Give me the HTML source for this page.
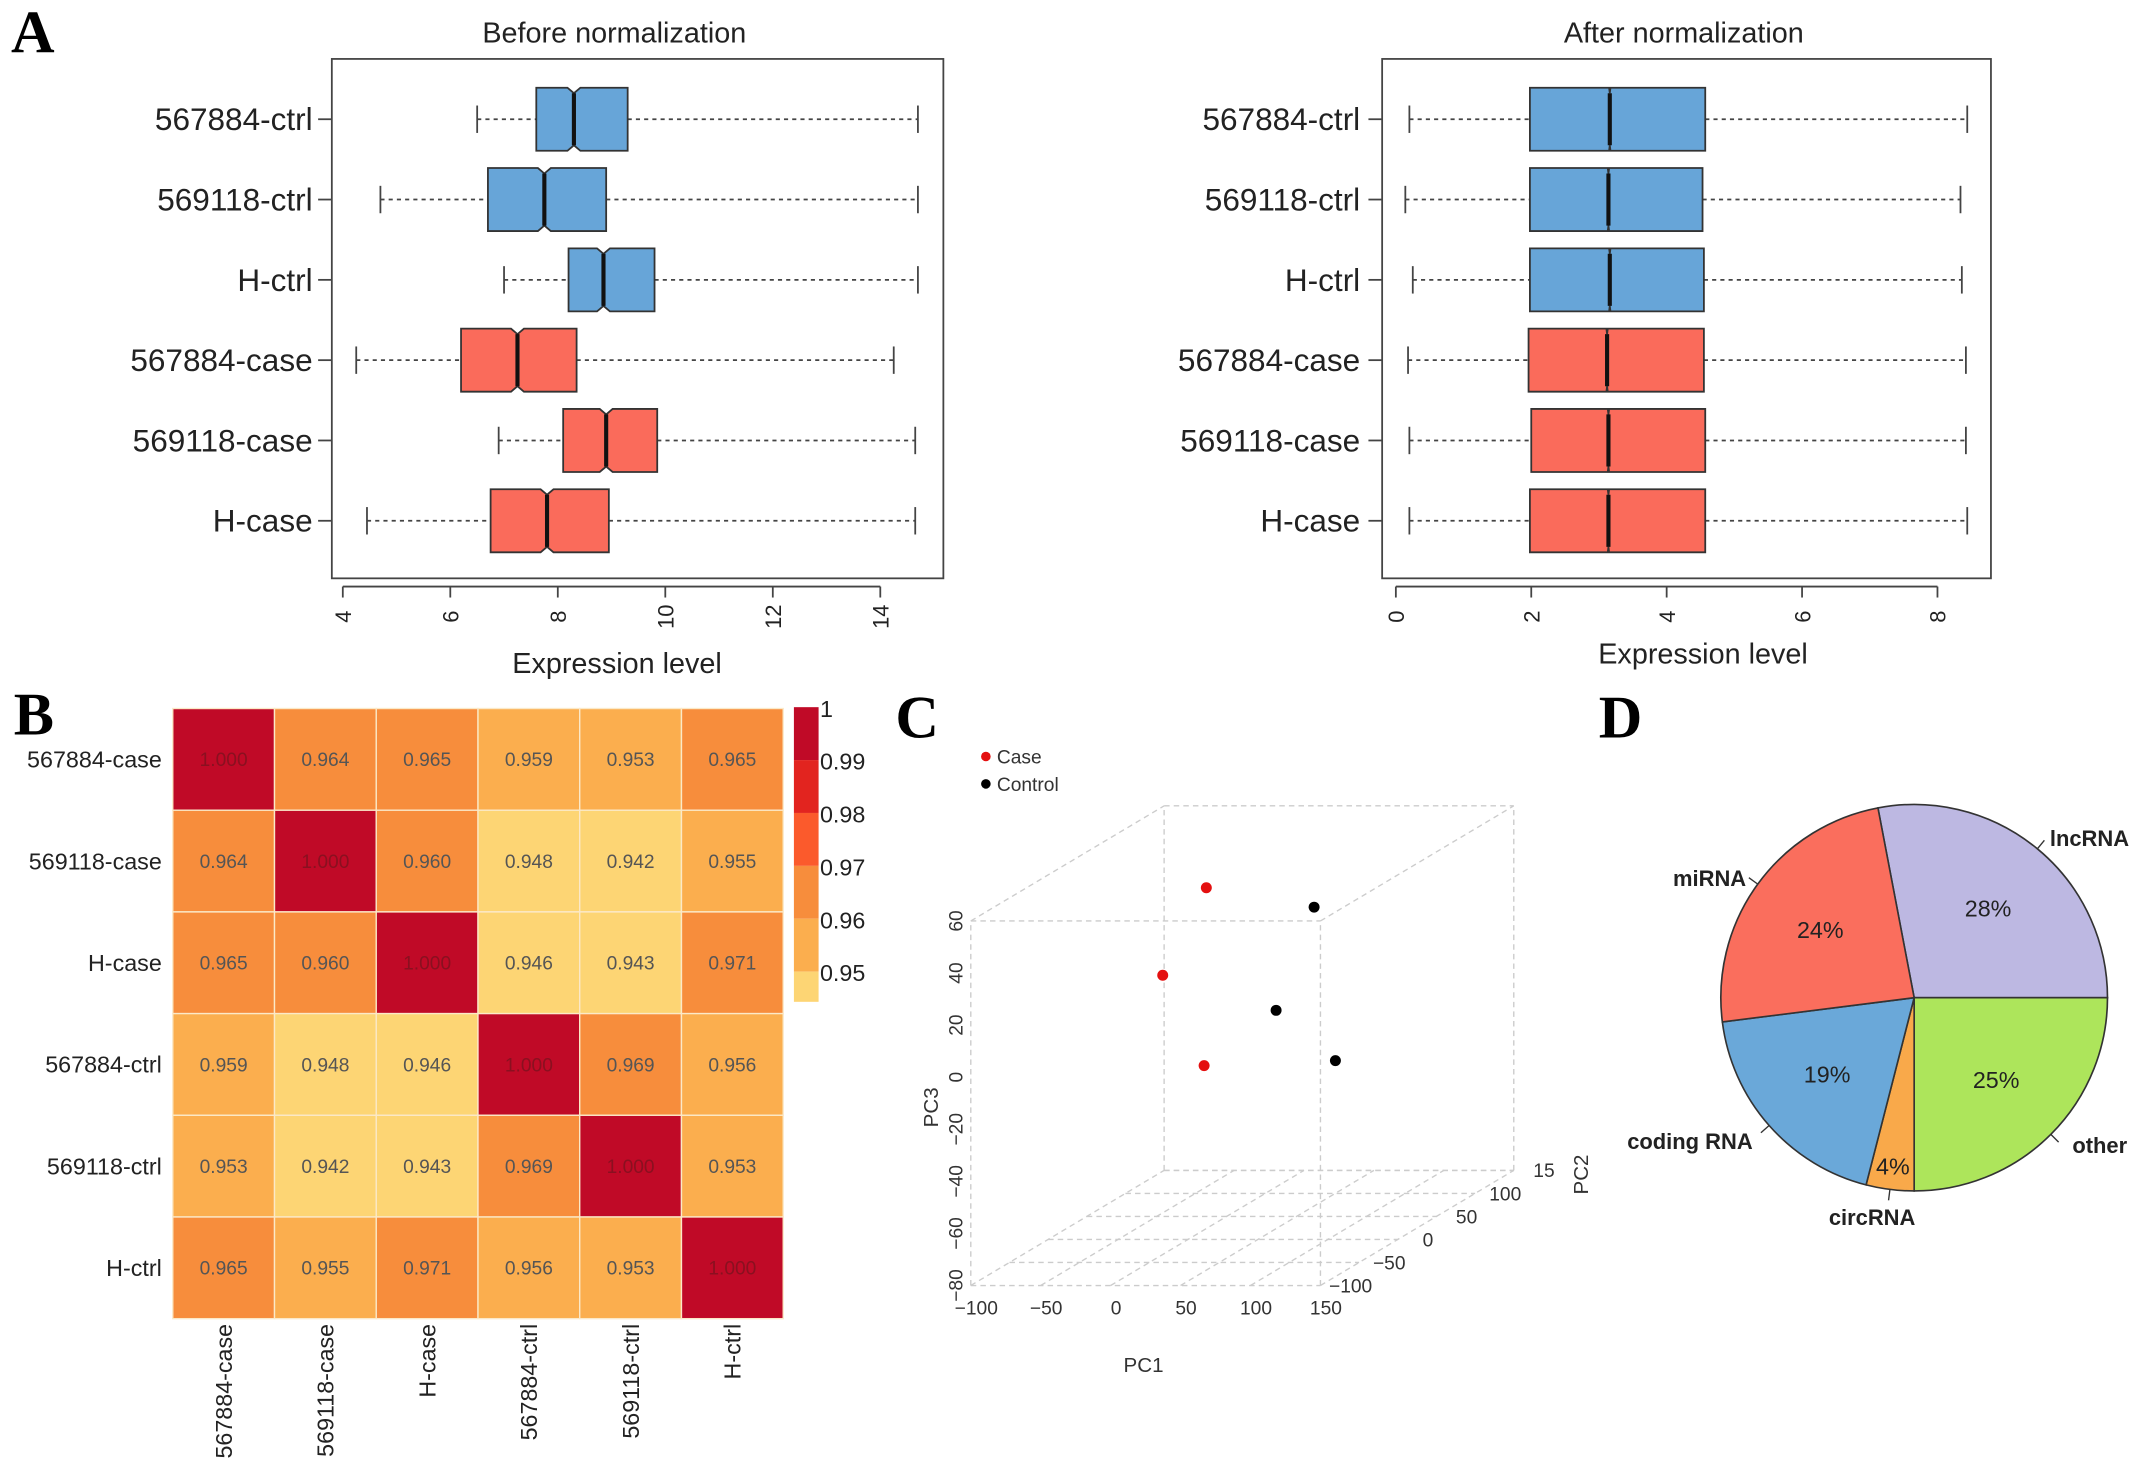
<!DOCTYPE html>
<html><head><meta charset="utf-8"><style>
html,body{margin:0;padding:0;background:#fff}
svg{display:block}
text{font-family:"Liberation Sans",Arial,sans-serif}
.big{font-family:"Liberation Serif",serif;font-weight:bold;font-size:44px}
</style></head><body>
<svg id="fig" xmlns="http://www.w3.org/2000/svg" width="2150" height="1476" viewBox="0 0 1568 1077" preserveAspectRatio="none">
<text class="big" x="8" y="38">A</text>
<text class="big" x="10" y="536">B</text>
<text class="big" x="653" y="538">C</text>
<text class="big" x="1166" y="538">D</text>
</svg>
<script>
// ---- Panel A data ----
const boxNames = ["567884-ctrl","569118-ctrl","H-ctrl","567884-case","569118-case","H-case"];
const boxGroup = ["ctrl","ctrl","ctrl","case","case","case"];
const beforeLow = [6.5,4.7,7.0,4.25,6.9,4.45];
const beforeQ1 = [7.6,6.7,8.2,6.2,8.1,6.75];
const beforeMed = [8.3,7.75,8.85,7.25,8.9,7.8];
const beforeQ3 = [9.3,8.9,9.8,8.35,9.85,8.95];
const beforeHigh = [14.7,14.7,14.7,14.25,14.65,14.65];
const beforeTicks = [4,6,8,10,12,14];
const afterLow = [0.2,0.14,0.25,0.18,0.2,0.2];
const afterQ1 = [1.98,1.98,1.98,1.96,2.0,1.98];
const afterMed = [3.16,3.14,3.16,3.12,3.14,3.14];
const afterQ3 = [4.57,4.53,4.55,4.55,4.57,4.57];
const afterHigh = [8.44,8.34,8.36,8.42,8.42,8.44];
const afterTicks = [0,2,4,6,8];
// ---- Panel B data ----
const hmNames = ["567884-case","569118-case","H-case","567884-ctrl","569118-ctrl","H-ctrl"];
const hmValues = [
 [1.000,0.964,0.965,0.959,0.953,0.965],
 [0.964,1.000,0.960,0.948,0.942,0.955],
 [0.965,0.960,1.000,0.946,0.943,0.971],
 [0.959,0.948,0.946,1.000,0.969,0.956],
 [0.953,0.942,0.943,0.969,1.000,0.953],
 [0.965,0.955,0.971,0.956,0.953,1.000]];
const cbTicks = [1,0.99,0.98,0.97,0.96,0.95];
// ---- Panel C data ----
const pcaGroup = ["Case","Case","Case","Control","Control","Control"];
const pc1 = [-9,-7,6,57,63,122];
const pc2 = [40,-20,10,60,0,-30];
const pc3 = [48,25,-15,37,8,-6];
const pc1Ticks = [-100,-50,0,50,100,150];
const pc2Ticks = [-100,-50,0,50,100,150];
const pc3Ticks = [60,40,20,0,-20,-40,-60,-80];
// ---- Panel D data ----
const pieNames = ["lncRNA","other","circRNA","coding RNA","miRNA"];
const piePct = [28,25,4,19,24];

const NS="http://www.w3.org/2000/svg";
const svg=document.getElementById('fig');
function mk(tag,at,parent){const e=document.createElementNS(NS,tag);for(const k in at)e.setAttribute(k,at[k]);(parent||svg).appendChild(e);return e;}
function txt(s,at,parent){const e=mk('text',at,parent);e.textContent=s;return e;}

function boxPanel(name,fx0,fx1,x0v,x1v,v0,v1,low,q1,med,q3,high,ticks,title,titleX,xlabY,labX,notch){
  const g=mk('g',{});
  
  
  const X=v=>x0v+(v-v0)*(x1v-x0v)/(v1-v0);
  const fy0=43,fy1=422;
  const fr=mk('rect',{x:fx0,y:fy0,width:fx1-fx0,height:fy1-fy0,fill:'none',stroke:'#444','stroke-width':1.3},g);
  
  
  const t=txt(title,{x:titleX,y:31,'text-anchor':'middle','font-size':21,fill:'#222'},g);
  
  
  const xl=txt('Expression level',{x:titleX+(name==='box-after'?14:2),y:xlabY,'text-anchor':'middle','font-size':21,fill:'#222'},g);
  
  
  mk('line',{x1:X(ticks[0]),x2:X(ticks[ticks.length-1]),y1:428,y2:428,stroke:'#444','stroke-width':1.3},g);
  ticks.forEach(v=>{
    mk('line',{x1:X(v),x2:X(v),y1:428,y2:436,stroke:'#444','stroke-width':1.3},g);
    const tl=txt(String(v),{x:0,y:0,'text-anchor':'middle','font-size':16,fill:'#222',transform:`translate(${X(v)+6} 450) rotate(-90)`},g);
    
    
  });
  boxNames.forEach((n,i)=>{
    const y=87+i*58.6, h=23;
    const fill=boxGroup[i]==='ctrl'?'#67A5D8':'#FA6B5B';
    const lb=txt(n,{x:labX,y:y+8,'text-anchor':'end','font-size':23,fill:'#222'},g);
    
    
    mk('line',{x1:fx0-10,x2:fx0,y1:y,y2:y,stroke:'#444','stroke-width':1.3},g);
    mk('line',{x1:X(low[i]),x2:X(q1[i]),y1:y,y2:y,stroke:'#444','stroke-width':1.3,'stroke-dasharray':'3,3'},g);
    mk('line',{x1:X(q3[i]),x2:X(high[i]),y1:y,y2:y,stroke:'#444','stroke-width':1.3,'stroke-dasharray':'3,3'},g);
    mk('line',{x1:X(low[i]),x2:X(low[i]),y1:y-10,y2:y+10,stroke:'#444','stroke-width':1.3},g);
    mk('line',{x1:X(high[i]),x2:X(high[i]),y1:y-10,y2:y+10,stroke:'#444','stroke-width':1.3},g);
    const a=X(q1[i]),b=X(q3[i]),m=X(med[i]),nl=X(med[i]-notch),nr=X(med[i]+notch),ih=h-4;
    const pts=`${a},${y-h} ${nl},${y-h} ${m},${y-ih} ${nr},${y-h} ${b},${y-h} ${b},${y+h} ${nr},${y+h} ${m},${y+ih} ${nl},${y+h} ${a},${y+h}`;
    const bx=mk('polygon',{points:pts,fill:fill,stroke:'#333','stroke-width':1.3},g);
    
    
    mk('line',{x1:m,x2:m,y1:y-ih,y2:y+ih,stroke:'#111','stroke-width':3},g);
  });
}
boxPanel('box-before',242,688,250,642,4,14,beforeLow,beforeQ1,beforeMed,beforeQ3,beforeHigh,beforeTicks,'Before normalization',448,491,228,0.12);
boxPanel('box-after',1008,1452,1018,1413,0,8,afterLow,afterQ1,afterMed,afterQ3,afterHigh,afterTicks,'After normalization',1228,484,992,0.01);

// ---- Heatmap ----
(function(){
  const g=mk('g',{});
  
  
  const x0=126,y0=517,cw=74.2,ch=74.2;
  const col=v=>v>=0.99?'#C00A27':v>=0.98?'#E2241F':v>=0.975?'#FB5A2C':v>=0.96?'#F78D3C':v>=0.95?'#FBAE4E':'#FDD574';
  hmValues.forEach((row,r)=>{
    row.forEach((v,c)=>{
      const cell=mk('rect',{x:x0+c*cw,y:y0+r*ch,width:cw,height:ch,fill:col(v),stroke:'#fbe9c8','stroke-width':1},g);
      
      
      const tv=txt(v.toFixed(3),{x:x0+c*cw+cw/2,y:y0+r*ch+ch/2+5,'text-anchor':'middle','font-size':14,fill:v>=0.99?'#8a1020':'#555'},g);
      
      
    });
  });
  hmNames.forEach((n,i)=>{
    const rl=txt(n,{x:118,y:y0+i*ch+ch/2+6,'text-anchor':'end','font-size':17,fill:'#222'},g);
    
    
    const cx=x0+i*cw+cw/2+6;
    const cl=txt(n,{x:0,y:0,'text-anchor':'end','font-size':17,fill:'#222',transform:`translate(${cx} 966) rotate(-90)`},g);
    
    
  });
  const cbX=579,cbW=18,Y=v=>516+(1-v)*3860;
  const bins=[[1,0.99,'#C00A27'],[0.99,0.98,'#E2241F'],[0.98,0.97,'#FB5A2C'],[0.97,0.96,'#F78D3C'],[0.96,0.95,'#FBAE4E'],[0.95,0.9443,'#FDD574']];
  bins.forEach(b=>{
    const r=mk('rect',{x:cbX,y:Y(b[0]),width:cbW,height:Y(b[1])-Y(b[0]),fill:b[2]},g);
    
    
  });
  cbTicks.forEach(v=>{
    const tl=txt(String(v),{x:598,y:Y(v)+7,'font-size':17,fill:'#222'},g);
    
    
  });
})();

// ---- PCA 3D ----
(function(){
  const g=mk('g',{});
  
  
  const PX=v=>708+(v+100)*1.02, PZ=v=>672+(60-v)*1.9, T=v=>(v+100)/250;
  const DX=141,DY=84;
  const P=(a,b,c)=>[PX(a)+T(b)*DX,PZ(c)-T(b)*DY];
  const ds={stroke:'#ccc','stroke-width':1,'stroke-dasharray':'4,3',fill:'none'};
  const L=(p,q)=>mk('line',Object.assign({x1:p[0],y1:p[1],x2:q[0],y2:q[1]},ds),g);
  [[-100,-100,60,150,-100,60],[-100,150,60,150,150,60],[-100,-100,60,-100,150,60],[150,-100,60,150,150,60],
   [-100,-100,-80,-100,-100,60],[150,-100,-80,150,-100,60],[-100,150,-80,-100,150,60],[150,150,-80,150,150,60],
   [-100,150,-80,150,150,-80]].forEach(e=>L(P(e[0],e[1],e[2]),P(e[3],e[4],e[5])));
  pc1Ticks.forEach(v=>L(P(v,-100,-80),P(v,150,-80)));
  pc2Ticks.forEach(v=>L(P(-100,v,-80),P(150,v,-80)));
  pc1Ticks.forEach(v=>{const p=P(v,-100,-80);const t=txt(String(v).replace('-','\u2212'),{x:p[0]+4,y:959,'text-anchor':'middle','font-size':14,fill:'#333'},g);});
  pc2Ticks.forEach(v=>{const p=P(150,v,-80);const s=v===150?'15':String(v).replace('-','\u2212');const t=txt(s,{x:p[0]+22,y:p[1]+5,'text-anchor':'middle','font-size':14,fill:'#333'},g);});
  pc3Ticks.forEach(v=>{const y=PZ(v);const t=txt(String(v).replace('-','\u2212'),{x:0,y:0,'text-anchor':'middle','font-size':14,fill:'#333',transform:`translate(702 ${y}) rotate(-90)`},g);});
  let t=txt('PC1',{x:834,y:1001,'text-anchor':'middle','font-size':15,fill:'#333'},g);
  
  t=txt('PC3',{x:0,y:0,'text-anchor':'middle','font-size':15,fill:'#333',transform:'translate(684 808) rotate(-90)'},g);
  
  t=txt('PC2',{x:0,y:0,'text-anchor':'middle','font-size':15,fill:'#333',transform:'translate(1158 857) rotate(-90)'},g);
  
  pc1.forEach((v,i)=>{
    const p=P(v,pc2[i],pc3[i]);
    const d=mk('circle',{cx:p[0],cy:p[1],r:4,fill:pcaGroup[i]==='Case'?'#E41010':'#000'},g);
    
    
  });
  [['Case','#E41010',552],['Control','#000',572]].forEach(l=>{
    const d=mk('circle',{cx:719,cy:l[2],r:3.5,fill:l[1]},g);
    
    
    const lt=txt(l[0],{x:727,y:l[2]+5,'font-size':14,fill:'#333'},g);
    
    
  });
})();

// ---- Pie ----
(function(){
  const g=mk('g',{});
  
  
  const cx=1396,cy=728,R=141;
  const cols={"lncRNA":"#BDB8E2","other":"#ADE55B","circRNA":"#F9A94A","coding RNA":"#6AA8D9","miRNA":"#FA6E5D"};
  const total=piePct.reduce((a,b)=>a+b,0);
  let a0=-10.8;
  const pt=(deg,r)=>[cx+r*Math.sin(deg*Math.PI/180),cy-r*Math.cos(deg*Math.PI/180)];
  const lblOff={"lncRNA":[4,4,'start'],"other":[10,8,'start'],"circRNA":[-12,18,'middle'],"coding RNA":[-6,12,'end'],"miRNA":[-2,6,'end']};
  piePct.forEach((p,i)=>{
    const a1=a0+p/total*360;
    const s=pt(a0,R),e=pt(a1,R),large=(a1-a0)>180?1:0;
    const sl=mk('path',{d:`M${cx},${cy} L${s[0]},${s[1]} A${R},${R} 0 ${large} 1 ${e[0]},${e[1]} Z`,fill:cols[pieNames[i]],stroke:'#333','stroke-width':1.2},g);
    
    
    const mid=(a0+a1)/2;
    const lp=pt(mid,pieNames[i]==='circRNA'?R*0.88:R*0.6);
    const pl=txt(p+'%',{x:lp[0],y:lp[1]+6,'text-anchor':'middle','font-size':17,fill:'#222'},g);
    
    
    const t1=pt(mid,R),t2=pt(mid,R+8);
    mk('line',{x1:t1[0],y1:t1[1],x2:t2[0],y2:t2[1],stroke:'#333','stroke-width':1},g);
    const o=lblOff[pieNames[i]];
    const nl=txt(pieNames[i],{x:t2[0]+o[0],y:t2[1]+o[1],'text-anchor':o[2],'font-size':16,'font-weight':'bold',fill:'#222'},g);
    
    
    a0=a1;
  });
})();
</script>
</body></html>
